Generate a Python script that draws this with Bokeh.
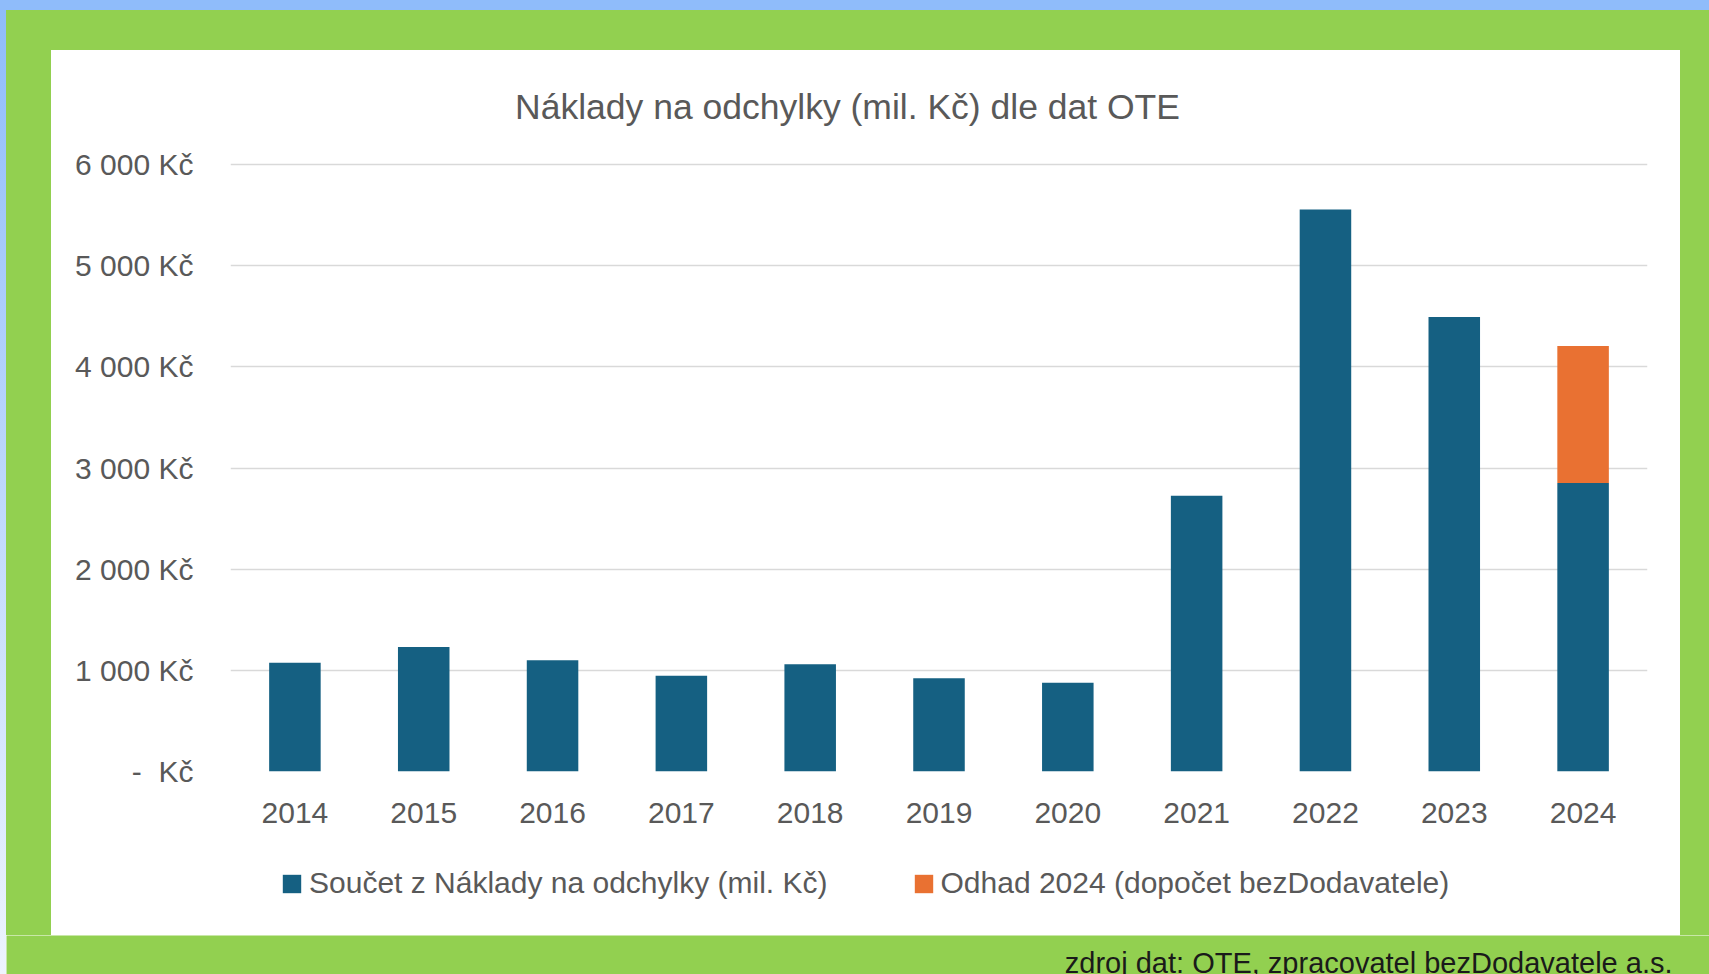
from bokeh.plotting import figure
from bokeh.models import Range1d, FixedTicker, Label, ColumnDataSource, Spacer
from bokeh.layouts import column, row
from bokeh.embed import file_html
from bokeh.resources import INLINE

# ---------------- data ----------------
years = ["2014", "2015", "2016", "2017", "2018", "2019", "2020", "2021", "2022", "2023", "2024"]
naklady = [1076, 1230, 1099, 947, 1059, 921, 878, 2726, 5555, 4493, 2853]
odhad = [0, 0, 0, 0, 0, 0, 0, 0, 0, 0, 1353]
series_names = ["Součet z Náklady na odchylky (mil. Kč)", "Odhad 2024 (dopočet bezDodavatele)"]
y_ticks = [0, 1000, 2000, 3000, 4000, 5000, 6000]
y_tick_labels = ["-\u00a0\u00a0Kč", "1 000 Kč", "2 000 Kč", "3 000 Kč", "4 000 Kč", "5 000 Kč", "6 000 Kč"]
title_text = "Náklady na odchylky (mil. Kč) dle dat OTE"
source_text = "zdroj dat: OTE, zpracovatel bezDodavatele a.s."

# ---------------- styles ----------------
BLUE = "#156082"
ORANGE = "#E97132"
GREEN = "#92D050"
SKY = "#8FBCFA"
GREY_TXT = "#595959"
FONT = "Liberation Sans"

PANEL_W = 1629
FRAME_L = 179
FRAME_R = 33


def block(w, h, bg):
    return Spacer(width=w, height=h, styles={"background": bg})


def plain(w, h, bg, **kw):
    opts = dict(x_range=Range1d(0, w), y_range=Range1d(0, h))
    opts.update(kw)
    f = figure(width=w, height=h, output_backend="svg", toolbar_location=None,
               x_axis_type=None, y_axis_type=None, min_border=0,
               outline_line_color=None, background_fill_color=bg,
               border_fill_color=bg, **opts)
    return f


src = ColumnDataSource(dict(year=years, naklady=naklady, odhad=odhad))

# title area (frame aligned with the chart frame)
title_fig = plain(PANEL_W, 84, "white")
title_fig.min_border_left = FRAME_L
title_fig.min_border_right = FRAME_R
title_fig.add_layout(Label(x=617, y=28, x_units="screen", y_units="screen", text=title_text,
                           text_align="center", text_baseline="middle",
                           text_font=FONT, text_font_size="35.5px", text_color=GREY_TXT))

# ---------------- main chart ----------------
p = figure(width=PANEL_W, height=707, x_range=years, y_range=Range1d(0, 6020),
           output_backend="svg", toolbar_location=None,
           min_border_left=FRAME_L, min_border_right=FRAME_R, min_border_top=28,
           min_border_bottom=70,
           border_fill_color="white", background_fill_color="white", outline_line_color=None)

p.vbar_stack(["naklady", "odhad"], x="year", width=0.4, source=src,
             fill_color=[BLUE, ORANGE], line_color=None)

p.xgrid.visible = False
p.ygrid.grid_line_color = "#d9d9d9"
p.ygrid.grid_line_width = 1.5

p.yaxis.ticker = FixedTicker(ticks=y_ticks)
p.yaxis.major_label_overrides = dict(zip(y_ticks, y_tick_labels))
for ax in (p.xaxis[0], p.yaxis[0]):
    ax.axis_line_color = None
    ax.major_tick_line_color = None
    ax.minor_tick_line_color = None
    ax.major_tick_out = 0
    ax.major_tick_in = 0
    ax.major_label_text_font = FONT
    ax.major_label_text_font_size = "30px"
    ax.major_label_text_color = GREY_TXT
p.yaxis.major_label_standoff = 37
p.xaxis.major_label_standoff = 31

# legend area: zero-width copies of the stacked bars (out of view) supply the swatches
legend_fig = plain(PANEL_W, 94, "white", x_range=years, y_range=Range1d(-2, -1))
legend_fig.min_border_left = FRAME_L
legend_fig.min_border_right = FRAME_R
legend_fig.vbar_stack(["naklady", "odhad"], x="year", width=0, source=src,
                      fill_color=[BLUE, ORANGE], line_color=None, legend_label=series_names)
lg = legend_fig.legend[0]
lg.location = (50, 35)
lg.orientation = "horizontal"
lg.glyph_width = 23
lg.glyph_height = 23
lg.label_standoff = 6
lg.spacing = 84
lg.padding = 0
lg.margin = 0
lg.border_line_color = None
lg.background_fill_alpha = 0
lg.label_text_font = FONT
lg.label_text_font_size = "30px"
lg.label_text_color = GREY_TXT

# source note on the green strip
bottom_fig = plain(1703, 39, GREEN)
bottom_fig.add_layout(Label(x=1666, y=12, x_units="screen", y_units="screen", text=source_text,
                            text_align="right", text_baseline="alphabetic",
                            text_font=FONT, text_font_size="29px", text_color="#1a1a1a"))

layout = column(
    block(1709, 10, SKY),
    row(
        block(6, 964, "linear-gradient(#8FBCFA, #EEF4FE)"),
        column(
            block(1703, 40, GREEN),
            row(block(45, 885, GREEN), column(title_fig, p, legend_fig), block(29, 885, GREEN)),
            bottom_fig,
        ),
    ),
)

open("out.html", "w").write(file_html(layout, INLINE))
